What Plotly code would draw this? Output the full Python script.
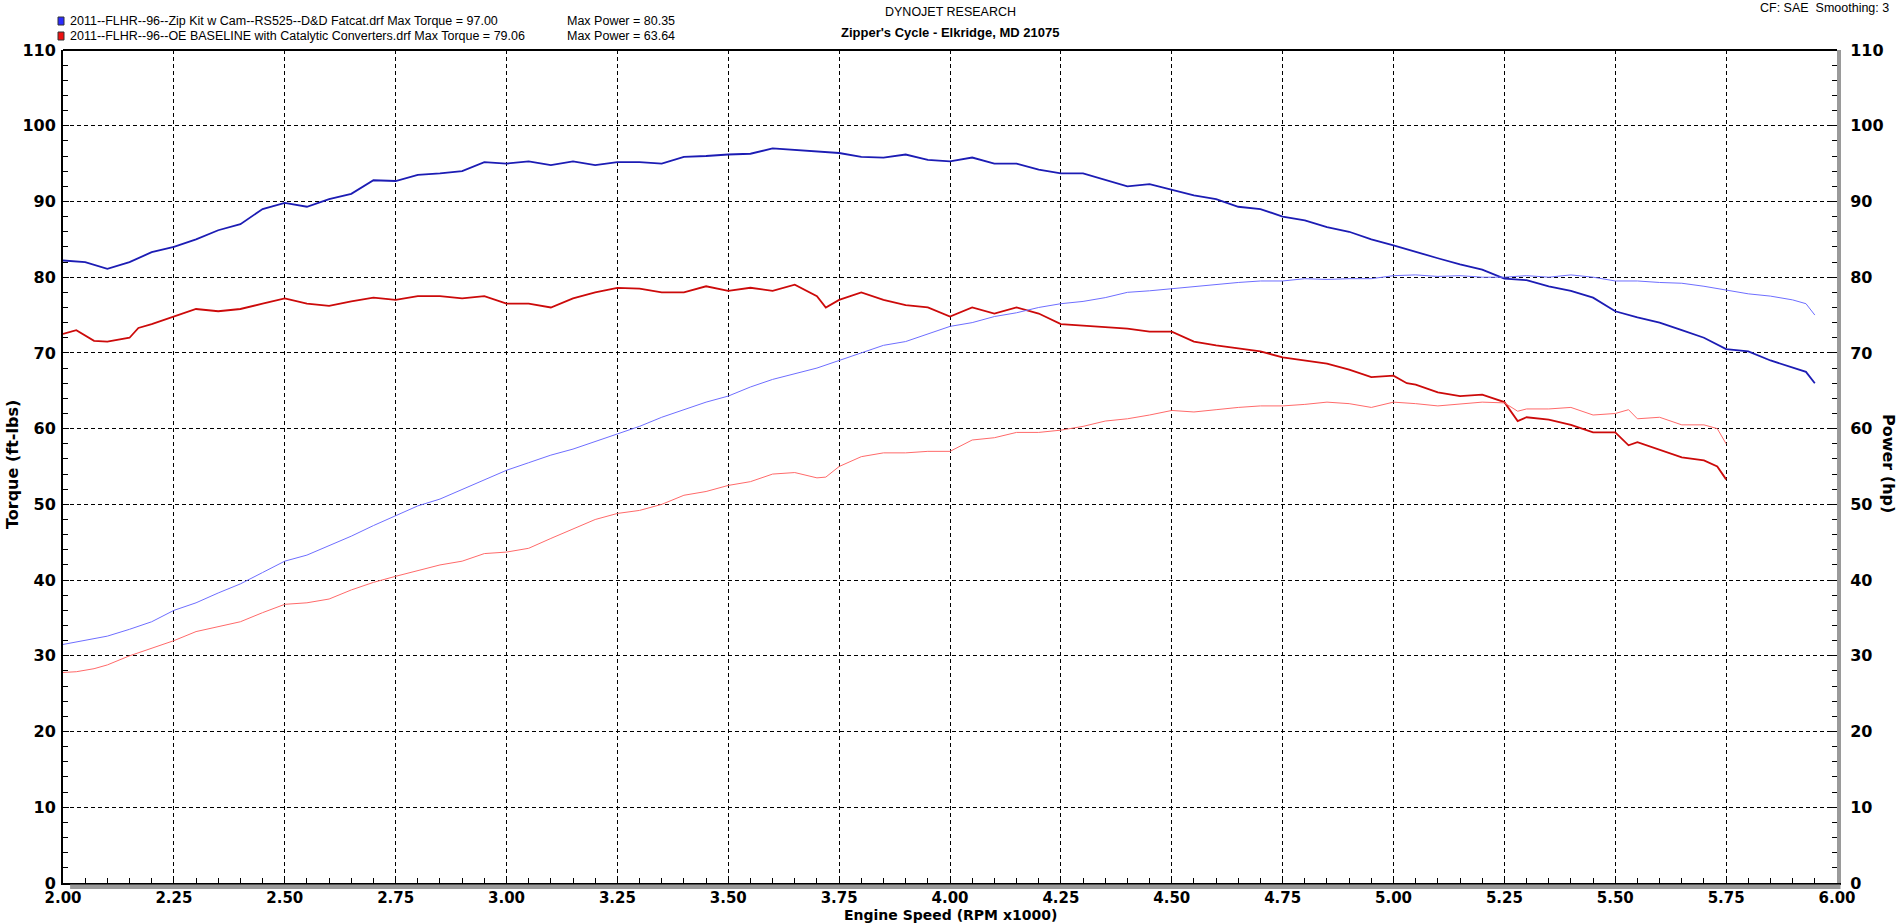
import plotly.graph_objects as go

# ---------------- data ----------------
rpm_blue = [2.00, 2.05, 2.10, 2.15, 2.20, 2.25, 2.30, 2.35, 2.40, 2.45, 2.50, 2.55, 2.60, 2.65, 2.70,
            2.75, 2.80, 2.85, 2.90, 2.95, 3.00, 3.05, 3.10, 3.15, 3.20, 3.25, 3.30, 3.35, 3.40, 3.45,
            3.50, 3.55, 3.60, 3.65, 3.70, 3.75, 3.80, 3.85, 3.90, 3.95, 4.00, 4.05, 4.10, 4.15, 4.20,
            4.25, 4.30, 4.35, 4.40, 4.45, 4.50, 4.55, 4.60, 4.65, 4.70, 4.75, 4.80, 4.85, 4.90, 4.95,
            5.00, 5.05, 5.10, 5.15, 5.20, 5.25, 5.30, 5.35, 5.40, 5.45, 5.50, 5.55, 5.60, 5.65, 5.70,
            5.75, 5.80, 5.85, 5.90, 5.93, 5.95]
torque_blue = [82.2, 82.0, 81.1, 82.0, 83.3, 84.0, 85.0, 86.2, 87.0, 89.0, 89.8, 89.3, 90.3, 91.0, 92.8,
               92.7, 93.5, 93.7, 94.0, 95.2, 95.0, 95.3, 94.8, 95.3, 94.8, 95.2, 95.2, 95.0, 95.9, 96.0,
               96.2, 96.3, 97.0, 96.8, 96.6, 96.4, 95.9, 95.8, 96.2, 95.5, 95.3, 95.8, 95.0, 95.0, 94.2,
               93.7, 93.7, 92.8, 92.0, 92.3, 91.5, 90.8, 90.3, 89.3, 89.0, 88.0, 87.5, 86.6, 86.0, 85.0,
               84.2, 83.3, 82.5, 81.7, 81.0, 79.8, 79.6, 78.8, 78.2, 77.3, 75.5, 74.7, 74.0, 73.0, 72.0,
               70.5, 70.2, 69.0, 68.0, 67.5, 66.0]
power_blue = [31.5, 32.0, 32.6, 33.5, 34.5, 36.0, 37.0, 38.3, 39.5, 41.0, 42.5, 43.3, 44.5, 45.8, 47.2,
              48.5, 49.8, 50.7, 52.0, 53.3, 54.5, 55.5, 56.5, 57.3, 58.3, 59.3, 60.3, 61.5, 62.5, 63.5,
              64.3, 65.5, 66.5, 67.2, 68.0, 69.0, 70.0, 71.0, 71.5, 72.5, 73.5, 74.0, 74.8, 75.3, 76.0,
              76.5, 76.8, 77.3, 78.0, 78.2, 78.5, 78.8, 79.0, 79.3, 79.5, 79.5, 79.8, 79.7, 79.8, 79.8,
              80.2, 80.3, 80.1, 80.2, 80.0, 80.0, 80.2, 80.0, 80.3, 80.0, 79.5, 79.5, 79.3, 79.2, 78.8,
              78.3, 77.8, 77.5, 77.0, 76.5, 75.0]

rpm_red = [2.00, 2.03, 2.07, 2.10, 2.15, 2.17, 2.20, 2.25, 2.30, 2.35, 2.40, 2.45, 2.50, 2.55, 2.60,
           2.65, 2.70, 2.75, 2.80, 2.85, 2.90, 2.95, 3.00, 3.05, 3.10, 3.15, 3.20, 3.25, 3.30, 3.35,
           3.40, 3.45, 3.50, 3.55, 3.60, 3.65, 3.70, 3.72, 3.75, 3.80, 3.85, 3.90, 3.95, 4.00, 4.05,
           4.10, 4.15, 4.20, 4.25, 4.30, 4.35, 4.40, 4.45, 4.50, 4.55, 4.60, 4.65, 4.70, 4.75, 4.80,
           4.85, 4.90, 4.95, 5.00, 5.03, 5.05, 5.10, 5.15, 5.20, 5.25, 5.28, 5.30, 5.35, 5.40, 5.45,
           5.50, 5.53, 5.55, 5.60, 5.65, 5.70, 5.73, 5.75]
torque_red = [72.5, 73.0, 71.6, 71.5, 72.0, 73.3, 73.8, 74.8, 75.8, 75.5, 75.8, 76.5, 77.2, 76.5, 76.2,
              76.8, 77.3, 77.0, 77.5, 77.5, 77.2, 77.5, 76.5, 76.5, 76.0, 77.2, 78.0, 78.6, 78.5, 78.0,
              78.0, 78.8, 78.2, 78.6, 78.2, 79.0, 77.5, 76.0, 77.0, 78.0, 77.0, 76.3, 76.0, 74.8, 76.0,
              75.2, 76.0, 75.2, 73.8, 73.6, 73.4, 73.2, 72.8, 72.8, 71.5, 71.0, 70.6, 70.2, 69.4, 69.0,
              68.6, 67.8, 66.8, 67.0, 66.0, 65.8, 64.8, 64.3, 64.5, 63.5, 61.0, 61.5, 61.2, 60.5, 59.5,
              59.5, 57.8, 58.2, 57.2, 56.2, 55.8, 55.0, 53.3]
power_red = [27.8, 27.9, 28.3, 28.8, 30.0, 30.4, 31.0, 32.0, 33.2, 33.8, 34.5, 35.7, 36.8, 37.0, 37.5,
             38.7, 39.7, 40.5, 41.3, 42.0, 42.5, 43.5, 43.7, 44.2, 45.5, 46.8, 48.0, 48.8, 49.2, 50.0,
             51.2, 51.7, 52.5, 53.0, 54.0, 54.2, 53.5, 53.6, 55.0, 56.3, 56.8, 56.8, 57.0, 57.0, 58.5,
             58.8, 59.5, 59.5, 59.8, 60.3, 61.0, 61.3, 61.8, 62.4, 62.2, 62.5, 62.8, 63.0, 63.0, 63.2,
             63.5, 63.3, 62.8, 63.5, 63.4, 63.3, 63.0, 63.2, 63.5, 63.4, 62.3, 62.6, 62.6, 62.8, 61.8,
             62.0, 62.5, 61.3, 61.5, 60.5, 60.5, 60.0, 58.0]

x_ticks = [2.00, 2.25, 2.50, 2.75, 3.00, 3.25, 3.50, 3.75, 4.00, 4.25, 4.50, 4.75, 5.00, 5.25, 5.50, 5.75, 6.00]
y_ticks = [0, 10, 20, 30, 40, 50, 60, 70, 80, 90, 100, 110]

legend_blue = "2011--FLHR--96--Zip Kit w Cam--RS525--D&D Fatcat.drf Max Torque = 97.00"
legend_red = "2011--FLHR--96--OE BASELINE with Catalytic Converters.drf Max Torque = 79.06"
power_blue_txt = "Max Power = 80.35"
power_red_txt = "Max Power = 63.64"

# ---------------- styles ----------------
BLUE_T = "#1c1cb4"
BLUE_P = "#6e6eff"
RED_T = "#cc0a0a"
RED_P = "#ff6a6a"
YTICKFONT = dict(family="DejaVu Sans", size=16, color="black", weight="bold")
XTICKFONT = dict(family="DejaVu Sans", size=15, color="black", weight="bold")
W, H = 1901, 923
L, R, T, B = 63, 64, 50, 40
PW, PH = W - L - R, H - T - B

fig = go.Figure()
fig.add_trace(go.Scatter(x=rpm_blue, y=power_blue, mode="lines", line=dict(color=BLUE_P, width=1), yaxis="y2"))
fig.add_trace(go.Scatter(x=rpm_red, y=power_red, mode="lines", line=dict(color=RED_P, width=1), yaxis="y2"))
fig.add_trace(go.Scatter(x=rpm_red, y=torque_red, mode="lines", line=dict(color=RED_T, width=1.8)))
fig.add_trace(go.Scatter(x=rpm_blue, y=torque_blue, mode="lines", line=dict(color=BLUE_T, width=1.8)))

fig.update_layout(
    width=W, height=H,
    margin=dict(l=L, r=R, t=T, b=B, autoexpand=False),
    paper_bgcolor="white", plot_bgcolor="white",
    showlegend=False,
    xaxis=dict(range=[2.0, 6.0], tickvals=x_ticks, ticktext=[f"{v:.2f}" for v in x_ticks],
               showgrid=True, gridcolor="black", griddash="4px,3px", gridwidth=1,
               showline=True, linecolor="black", linewidth=2, mirror=False,
               ticks="inside", ticklen=6, tickcolor="black",
               minor=dict(dtick=0.05, ticks="inside", ticklen=5, tickcolor="black", showgrid=False),
               tickfont=XTICKFONT, zeroline=False, ticklabelstandoff=0),
    yaxis=dict(range=[0, 110], tickvals=y_ticks, showgrid=True, gridcolor="black", griddash="4px,3px",
               gridwidth=1, showline=True, linecolor="black", linewidth=2,
               ticks="inside", ticklen=6, tickcolor="black",
               minor=dict(dtick=2, ticks="inside", ticklen=5, tickcolor="black", showgrid=False),
               tickfont=YTICKFONT, zeroline=False, ticklabelstandoff=2),
    yaxis2=dict(range=[0, 110], tickvals=y_ticks, overlaying="y", side="right", showgrid=False,
                showline=True, linecolor="#9a9a9a", linewidth=4,
                ticks="inside", ticklen=6, tickcolor="black",
                minor=dict(dtick=2, ticks="inside", ticklen=5, tickcolor="black"),
                tickfont=YTICKFONT, zeroline=False, ticklabelstandoff=6),
)

# top border and bottom shadow
fig.add_shape(type="line", xref="paper", yref="paper", x0=0, x1=1, y0=1, y1=1,
              line=dict(color="black", width=2))
fig.add_shape(type="rect", xref="paper", yref="paper", x0=0.004, x1=1.002, y0=-6 / PH, y1=-1.5 / PH,
              line=dict(width=0), fillcolor="#9a9a9a")


def px(xp):
    return (xp - L) / PW


def py(yp):
    return 1 - (yp - T) / PH


# axis titles (positions in page pixels converted to paper coords)
fig.add_annotation(text="<b>Engine Speed (RPM x1000)</b>", xref="paper", yref="paper",
                   x=px(950), y=py(915), xanchor="center", yanchor="middle",
                   showarrow=False, font=dict(family="DejaVu Sans", size=14, color="black"))
fig.add_annotation(text="<b>Torque (ft-lbs)</b>", xref="paper", yref="paper",
                   x=px(12), y=py(465), xanchor="center", yanchor="middle",
                   showarrow=False, textangle=-90, font=dict(family="DejaVu Sans", size=16, color="black"))
fig.add_annotation(text="<b>Power (hp)</b>", xref="paper", yref="paper",
                   x=px(1889), y=py(463), xanchor="center", yanchor="middle",
                   showarrow=False, textangle=90, font=dict(family="DejaVu Sans", size=16, color="black"))

# header texts
hdr = dict(family="Liberation Sans", size=12.5, color="black")
fig.add_annotation(text="DYNOJET RESEARCH", xref="paper", yref="paper", x=px(950), y=py(12),
                   xanchor="center", yanchor="middle", showarrow=False, font=hdr)
fig.add_annotation(text="<b>Zipper's Cycle - Elkridge, MD 21075</b>", xref="paper", yref="paper",
                   x=px(950), y=py(33), xanchor="center", yanchor="middle", showarrow=False,
                   font=dict(family="Liberation Sans", size=13, color="black"))
fig.add_annotation(text="CF: SAE  Smoothing: 3", xref="paper", yref="paper", x=px(1891), xanchor="right",
                   y=py(8), yanchor="middle", showarrow=False, font=hdr)

# legend lines
for i, (txt, ptxt, col) in enumerate([(legend_blue, power_blue_txt, "#2b2bff"),
                                      (legend_red, power_red_txt, "#ee1111")]):
    yc = 21 + i * 15
    fig.add_annotation(text=txt, xref="paper", yref="paper", x=px(68), xanchor="left", y=py(yc),
                       yanchor="middle", showarrow=False, font=hdr)
    fig.add_annotation(text=ptxt, xref="paper", yref="paper", x=px(565), xanchor="left", y=py(yc),
                       yanchor="middle", showarrow=False, font=hdr)
    fig.add_shape(type="rect", xref="paper", yref="paper",
                  x0=px(58), x1=px(64), y0=py(yc + 4), y1=py(yc - 4),
                  line=dict(color="#333333", width=1), fillcolor=col)

fig.write_html("out.html", config={"displayModeBar": False},
               post_script="document.body.style.margin='0';")
